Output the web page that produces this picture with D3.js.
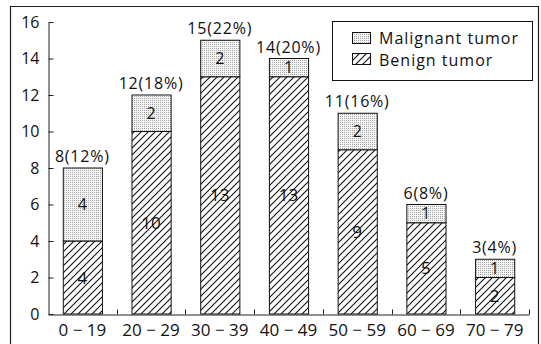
<!DOCTYPE html>
<html>
<head>
<meta charset="utf-8">
<script src="https://cdn.jsdelivr.net/npm/d3@7"></script>
<style>
  html, body { margin: 0; padding: 0; background: #fff; }
  svg { display: block; font-family: "Open Sans", "DejaVu Sans", sans-serif; }
  text { fill: #111; }
</style>
</head>
<body>
<svg id="chart" width="541" height="344"></svg>
<script>
// Age groups and tumour counts per group
const ageGroups = ["0 − 19", "20 − 29", "30 − 39", "40 − 49", "50 − 59", "60 − 69", "70 − 79"];
const benign    = [4, 10, 13, 13, 9, 5, 2];
const malignant = [4, 2, 2, 1, 2, 1, 1];
const percents  = ["12%", "18%", "22%", "20%", "16%", "8%", "4%"];
const yTicks    = [0, 2, 4, 6, 8, 10, 12, 14, 16];

const svg = d3.select("#chart");

// Fill patterns: diagonal hatching for benign, fine stipple for malignant
const defs = svg.append("defs");
const hatch = defs.append("pattern")
  .attr("id", "hatch").attr("patternUnits", "userSpaceOnUse")
  .attr("width", 7).attr("height", 7);
hatch.append("rect").attr("width", 7).attr("height", 7).attr("fill", "#fff");
hatch.append("path")
  .attr("d", "M-1,1 l2,-2 M0,7 l7,-7 M6,8 l2,-2")
  .attr("stroke", "#111").attr("stroke-width", 1.1);

const dots = defs.append("pattern")
  .attr("id", "dots").attr("patternUnits", "userSpaceOnUse")
  .attr("width", 2).attr("height", 2);
dots.append("rect").attr("width", 2).attr("height", 2).attr("fill", "#f6f6f6");
dots.append("rect").attr("width", 1).attr("height", 1).attr("fill", "#a4a4a4");

// Outer frame (left, top, right)
svg.append("path")
  .attr("d", "M10.5,344 V6.5 H538.5 V344")
  .attr("fill", "none").attr("stroke", "#222").attr("stroke-width", 1.2);

// Scales
const x = d3.scaleBand().domain(ageGroups).range([48, 529])
  .paddingInner(0.43).paddingOuter(0.215);
const y = d3.scaleLinear().domain([0, 16]).range([314, 22]);

const rows = ageGroups.map((g, i) => ({
  group: g, benign: benign[i], malignant: malignant[i],
  total: benign[i] + malignant[i], pct: percents[i]
}));

// Bars: benign segment at bottom, malignant stacked on top
const bars = svg.append("g");
bars.selectAll("rect.benign").data(rows).join("rect")
  .attr("class", "benign")
  .attr("x", d => x(d.group) + 0.5)
  .attr("y", d => y(d.benign))
  .attr("width", x.bandwidth())
  .attr("height", d => y(0) - y(d.benign))
  .attr("fill", "url(#hatch)").attr("stroke", "#111").attr("stroke-width", 1);

bars.selectAll("rect.malignant").data(rows).join("rect")
  .attr("class", "malignant")
  .attr("x", d => x(d.group) + 0.5)
  .attr("y", d => y(d.total))
  .attr("width", x.bandwidth())
  .attr("height", d => y(d.benign) - y(d.total))
  .attr("fill", "url(#dots)").attr("stroke", "#111").attr("stroke-width", 1);

// Counts inside each segment
bars.selectAll("text.bn").data(rows).join("text")
  .attr("class", "bn")
  .attr("x", d => x(d.group) + x.bandwidth() / 2)
  .attr("y", d => (y(0) + y(d.benign)) / 2)
  .attr("dy", "0.36em").attr("text-anchor", "middle")
  .attr("font-size", 17)
  .text(d => d.benign);

bars.selectAll("text.ml").data(rows).join("text")
  .attr("class", "ml")
  .attr("x", d => x(d.group) + x.bandwidth() / 2)
  .attr("y", d => (y(d.benign) + y(d.total)) / 2)
  .attr("dy", "0.36em").attr("text-anchor", "middle")
  .attr("font-size", 16)
  .text(d => d.malignant);

// Totals above each bar
bars.selectAll("text.tot").data(rows).join("text")
  .attr("class", "tot")
  .attr("x", d => x(d.group) + x.bandwidth() / 2)
  .attr("y", d => y(d.total) - 6)
  .attr("text-anchor", "middle")
  .attr("font-size", 16).attr("letter-spacing", 0.8)
  .text(d => `${d.total}(${d.pct})`);

// Y axis with inward ticks
const yAxis = svg.append("g").attr("transform", "translate(48.5,0)")
  .call(d3.axisLeft(y).tickValues(yTicks).tickSizeInner(-5).tickSizeOuter(0).tickPadding(9));
yAxis.selectAll("text").attr("font-size", 16).attr("font-family", "Open Sans, sans-serif");
yAxis.selectAll("line, path").attr("stroke", "#222");

// X axis: baseline, labels under bars, upward ticks between groups
const xAxis = svg.append("g").attr("transform", "translate(0,314.5)")
  .call(d3.axisBottom(x).tickSize(0).tickPadding(9));
xAxis.select(".domain").attr("stroke", "#222");
xAxis.selectAll("text").attr("font-size", 17).attr("font-family", "Open Sans, sans-serif");

const bounds = ageGroups.map(g => x(g) + x.bandwidth() + (x.step() - x.bandwidth()) / 2);
xAxis.selectAll("line.sep").data(bounds).join("line")
  .attr("class", "sep")
  .attr("x1", d => Math.round(d) + 0.5).attr("x2", d => Math.round(d) + 0.5)
  .attr("y1", 0).attr("y2", -5)
  .attr("stroke", "#222");

// Legend
const legend = svg.append("g");
legend.append("rect")
  .attr("x", 332.5).attr("y", 21.5).attr("width", 200).attr("height", 59)
  .attr("fill", "#fff").attr("stroke", "#111");
const legendItems = [
  { label: "Malignant tumor", fill: "url(#dots)" },
  { label: "Benign tumor", fill: "url(#hatch)" }
];
legendItems.forEach((item, i) => {
  legend.append("rect")
    .attr("x", 352.5).attr("y", 32.5 + i * 21)
    .attr("width", 18).attr("height", 11)
    .attr("fill", item.fill).attr("stroke", "#111");
  legend.append("text")
    .attr("x", 379).attr("y", 43.5 + i * 22)
    .attr("font-size", 16).attr("letter-spacing", 1)
    .text(item.label);
});
</script>
</body>
</html>
